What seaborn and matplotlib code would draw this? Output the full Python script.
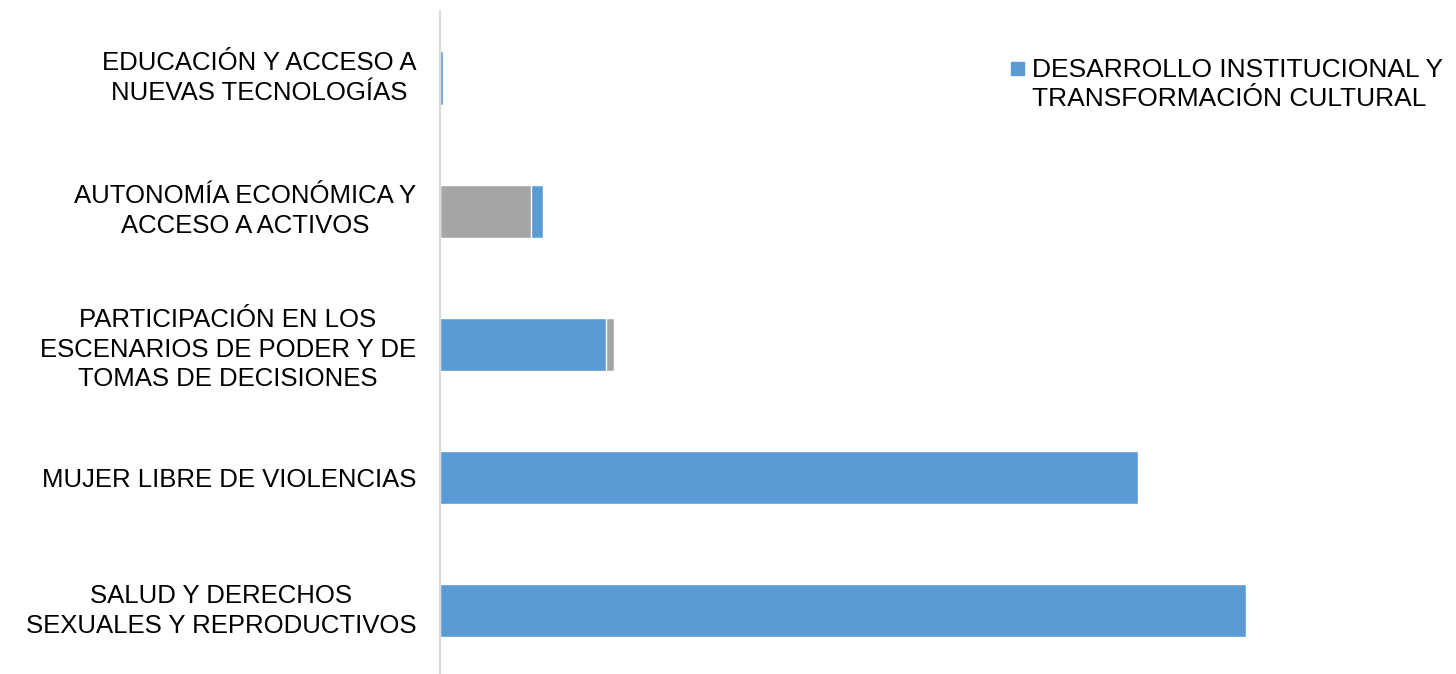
import matplotlib
matplotlib.use("Agg")
import matplotlib.pyplot as plt
import seaborn as sns
import pandas as pd
from matplotlib.patches import Patch, Rectangle
from matplotlib.legend_handler import HandlerPatch

categories = [
    "EDUCACIÓN Y ACCESO A\nNUEVAS TECNOLOGÍAS",
    "AUTONOMÍA ECONÓMICA Y\nACCESO A ACTIVOS",
    "PARTICIPACIÓN EN LOS\nESCENARIOS DE PODER Y DE\nTOMAS DE DECISIONES",
    "MUJER LIBRE DE VIOLENCIAS",
    "SALUD Y DERECHOS\nSEXUALES Y REPRODUCTIVOS",
]
# stacked segments, left to right
desarrollo = [0.4, 0.0, 20.6, 86.7, 100.0]
gris = [0.0, 11.3, 1.0, 0.0, 0.0]
azul_extra = [0.0, 1.5, 0.0, 0.0, 0.0]

legend_label = "DESARROLLO INSTITUCIONAL Y\nTRANSFORMACIÓN CULTURAL"
blue = "#5B9BD5"
grey = "#A5A5A5"

df = pd.DataFrame({"cat": categories, "d": desarrollo, "g": gris, "a": azul_extra})
df["t1"] = df["d"]
df["t2"] = df["d"] + df["g"]
df["t3"] = df["d"] + df["g"] + df["a"]

sns.set_style("white")
plt.rcParams["font.family"] = ["Liberation Sans", "DejaVu Sans"]
plt.rcParams["text.color"] = "black"

fig = plt.figure(figsize=(14.56, 6.74), dpi=100)
ax = fig.add_axes([0.302, -0.005, 0.688, 0.988])

# draw cumulative totals back to front
for col, c in [("t3", blue), ("t2", grey), ("t1", blue)]:
    sns.barplot(data=df, y="cat", x=col, color=c, saturation=1, width=0.4,
                orient="h", errorbar=None, ax=ax)

ax.set_xlim(0, 124.3)
ax.set_xlabel("")
ax.set_ylabel("")
ax.set_xticks([])
for s in ["top", "right", "bottom"]:
    ax.spines[s].set_visible(False)
ax.spines["left"].set_color("#d9d9d9")
ax.spines["left"].set_linewidth(1.5)
ax.tick_params(axis="y", length=0, pad=17, labelsize=18.5, labelcolor="black")
for lbl in ax.get_yticklabels():
    lbl.set_multialignment("center")
    lbl.set_linespacing(1.3)
    if lbl.get_text().count("\n") == 1:
        lbl.set_verticalalignment("center")


def top_square(legend, orig_handle, xdescent, ydescent, width, height, fontsize):
    return Rectangle((-xdescent, -ydescent + height - width + 3.6), width, width)


leg = ax.legend(handles=[Patch(color=blue, label=legend_label)],
                loc="upper left", bbox_to_anchor=(1011 / 1456, 1 - 58 / 674),
                bbox_transform=fig.transFigure, frameon=False, fontsize=19,
                handlelength=0.5, handleheight=1.8, handletextpad=0.3,
                borderpad=0, borderaxespad=0,
                handler_map={Patch: HandlerPatch(patch_func=top_square)})
for t in leg.get_texts():
    t.set_linespacing(1.25)

fig.savefig("out.png", dpi=100)
